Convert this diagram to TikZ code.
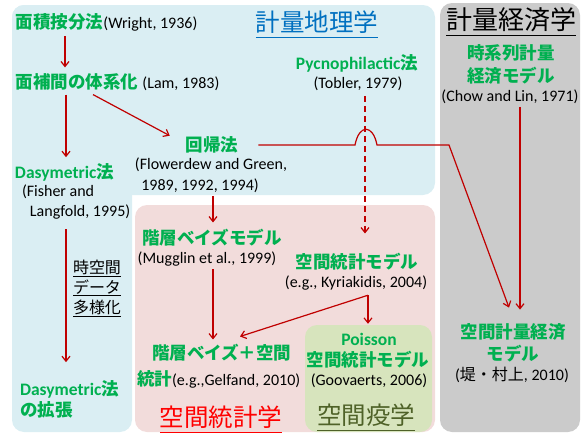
\documentclass[tikz,border=0pt]{standalone}
\usepackage{fontspec}
\setmainfont{Carlito}
\newfontfamily\cjk{Noto Sans CJK JP}
\usetikzlibrary{arrows.meta,calc}
\definecolor{bgblue}{HTML}{DAEEF3}
\definecolor{bgpink}{HTML}{F2DCDB}
\definecolor{bggreen}{HTML}{D7E4BD}
\definecolor{bggray}{HTML}{CBCBCB}
\definecolor{tgreen}{HTML}{00B050}
\definecolor{tblue}{HTML}{0070C0}
\definecolor{tred}{HTML}{FF0000}
\definecolor{tolive}{HTML}{4F6228}
\definecolor{arrred}{HTML}{C00000}
\newcommand\J[1]{{\cjk #1}}
\newcommand\blk[1]{{\color{black}\fontsize{16}{20}\selectfont\mdseries #1}}
\newcommand\ul[1]{\underline{#1\rule[-4pt]{0pt}{1pt}}}
\begin{document}
\begin{tikzpicture}[x=1pt,y=-1pt,
  every node/.style={inner sep=0pt, outer sep=0pt},
  g/.style={text=tgreen, font=\fontsize{17.5}{21}\selectfont\bfseries},
  cit/.style={text=black, font=\fontsize{16}{20}\selectfont},
  ttl/.style={font=\cjk\fontsize{24.5}{28}\selectfont},
  bg/.style={rounded corners=12pt, draw=none},
  arr/.style={draw=arrred, line width=1.2pt, -{Straight Barb[length=5pt,width=8pt]}},
  ln/.style={draw=arrred, line width=1.2pt}
]
\useasboundingbox (0,0) rectangle (582,434);
% background regions
\fill[bg, bgblue] (12,5) rectangle (435,195);
\fill[bg, bgblue] (12,5) rectangle (132,432);
\fill[bg, bgpink] (135,205) rectangle (435,432);
\fill[bg, bggreen] (305,325) rectangle (432,432);
\fill[bg, bggray] (440,3) rectangle (580,432);

% titles
\node[ttl, text=tblue] (ttl1) at (317,24) {\ul{計量地理学}};
\node[ttl, text=black, font=\cjk\fontsize{26}{30}\selectfont] (ttl2) at (511,22) {\ul{計量経済学}};
\node[ttl, text=tred] (sst) at (221,419) {\ul{空間統計学}};
\node[ttl, text=tolive] (sek) at (366,417) {\ul{空間疫学}};

% quantitative geography
\node[g, anchor=west] (wr) at (16,22) {\J{面積按分法}\blk{(Wright, 1936)}};
\node[g, anchor=west] (lam) at (16,82) {\J{面補間の体系化} \blk{(Lam, 1983)}};
\node[g] (pyc) at (357,63) {Pycnophilactic\J{法}};
\node[cit] (tob) at (358,84) {(Tobler, 1979)};
\node[g] (reg) at (212,145) {\J{回帰法}};
\node[cit] (flw1) at (211,165) {(Flowerdew and Green,};
\node[cit] (flw2) at (200,186) {1989, 1992, 1994)};
\node[g, anchor=west] (das) at (15,172) {Dasymetric\J{法}};
\node[cit, anchor=west] (fis1) at (22,192) {(Fisher and};
\node[cit, anchor=west] (fis2) at (30,212) {Langfold, 1995)};
\node[cit, font=\cjk\fontsize{16}{20}\selectfont, align=center] (stl) at (97,288)
  {\underline{時空間}\\\underline{データ}\\\underline{多様化}};
\node[g, anchor=west] (das2) at (20,389) {Dasymetric\J{法}};
\node[g, anchor=west] (kc) at (20,410) {\J{の拡張}};

% econometrics
\node[g] (ts1) at (511,53) {\J{時系列計量}};
\node[g] (ts2) at (511,76) {\J{経済モデル}};
\node[cit] (chow) at (510,97) {(Chow and Lin, 1971)};
\node[g] (sse1) at (513,332) {\J{空間計量経済}};
\node[g] (sse2) at (513,354) {\J{モデル}};
\node[cit] (tsu) at (512,375) {(\J{堤・村上}, 2010)};

% spatial statistics
\node[g] (hb) at (212,238) {\J{階層ベイズモデル}};
\node[cit] (mug) at (207,259) {(Mugglin et al., 1999)};
\node[g] (sm) at (357,262) {\J{空間統計モデル}};
\node[cit] (kyr) at (356,283) {(e.g., Kyriakidis, 2004)};
\node[g, anchor=west] (hbs1) at (152,353) {\J{階層ベイズ＋空間}};
\node[g, anchor=west] (hbs2) at (137,379) {\J{統計}\blk{(e.g.,Gelfand, 2010)}};

% spatial epidemiology
\node[g] (poi) at (369,339) {Poisson};
\node[g] (psm) at (368,360) {\J{空間統計モデル}};
\node[cit] (goo) at (369,381) {(Goovaerts, 2006)};

% connectors
\draw[arr] ($(wr.south west)+(49,5)$) -- ($(lam.north west)+(49,-6)$);
\draw[arr] ($(lam.south west)+(50,4)$) -- ($(das.north west)+(51,-6)$);
\draw[arr] ($(lam.south west)+(77,4)$) -- ($(reg.north west)+(-16,-1)$);
\draw[arr] ($(fis2.south west)+(36,10)$) -- ($(das2.north west)+(46,-18)$);
\draw[arr] ($(flw2.south)+(13,3)$) -- ($(hb.north)+(1,-7)$);
\draw[arr] ($(mug.south)+(6,3)$) -- ($(hbs1.north west)+(61,-5)$);
\draw[arr, dash pattern=on 6pt off 4pt] ($(tob.south)+(7,5)$) -- ($(sm.north)+(8,-20)$);
\coordinate (b1) at (355,145);
\coordinate (b2) at (377,145);
\coordinate (bk) at (449,145);
\draw[ln, -{Straight Barb[length=5pt,width=8pt]}] ($(reg.east)+(20,0)$) -- (b1)
   .. controls (359,124) and (373,124) .. (b2) -- (bk) -- ($(sse1.north)+(-4,-16)$);
\draw[arr] ($(chow.south)+(10,3)$) -- ($(sse1.north)+(7,-14)$);
\coordinate (br) at ($(kyr.south)+(12,5)$);
\draw[arr] (br) -- ($(hbs1.north west)+(88,-8)$);
\draw[arr] (br) -- ($(poi.north)+(-1,-9)$);
\end{tikzpicture}
\end{document}
